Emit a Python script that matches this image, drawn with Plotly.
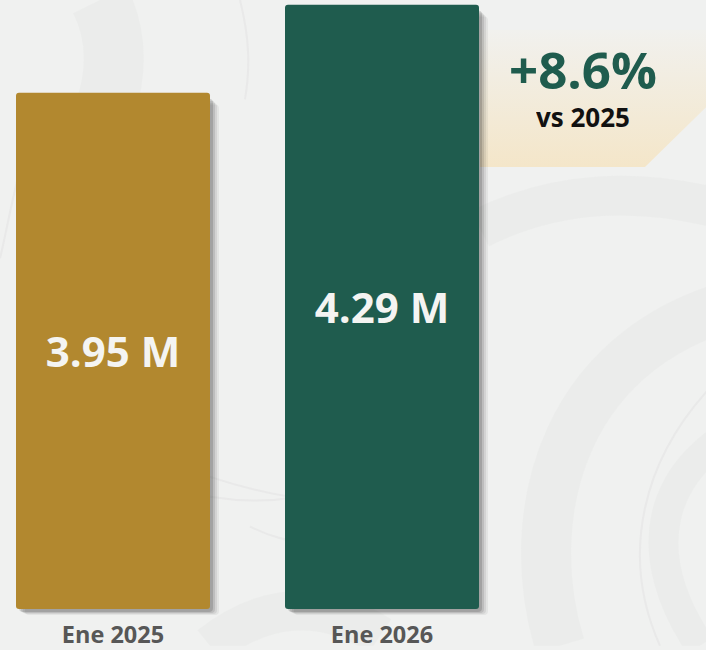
import base64
import plotly.graph_objects as go

# ---- data ----
categories = ["Ene 2025", "Ene 2026"]
values = [3.95, 4.29]
value_labels = ["3.95 M", "4.29 M"]
bar_colors = ["#B2882F", "#1F5C4E"]
change_text = "+8.6%"
change_sub = "vs 2025"

# ---- style ----
W, H = 706, 650
PLOT_H = 620
Y_MIN, Y_MAX = 1.929, 4.308
BASE = 1.956
px_per_unit = PLOT_H / (Y_MAX - Y_MIN)
px_per_cat = 269.0
X_MIN = -113 / px_per_cat
X_MAX = X_MIN + W / px_per_cat
BAR_W = 194 / px_per_cat
FONT = "Open Sans"

svg = f'''<svg xmlns="http://www.w3.org/2000/svg" width="{W}" height="{H}" viewBox="0 0 {W} {H}">
<defs>
<linearGradient id="g" x1="0" y1="0" x2="0" y2="1">
<stop offset="0" stop-color="#F1F1EE"/>
<stop offset="1" stop-color="#F4E6C9"/>
</linearGradient>
</defs>
<rect width="{W}" height="{H}" fill="#F0F1F0"/>
<g fill="none" stroke="#EAEBEA" stroke-opacity="0.8">
<path d="M560,650 C520,520 560,340 760,300" stroke-width="50"/>
<path d="M700,650 C640,560 650,470 760,420" stroke-width="30"/>
<path d="M100,0 C120,40 115,80 105,110" stroke-width="60"/>
<path d="M210,650 C260,610 320,600 380,640" stroke-width="40"/>
<path d="M480,230 C560,190 640,190 720,210" stroke-width="40"/>
</g>
<g fill="none" stroke="#E5E6E6" stroke-opacity="0.7">
<path d="M660,650 C620,560 640,460 720,380" stroke-width="2"/>
<path d="M210,480 C240,490 260,495 290,500" stroke-width="2"/>
<path d="M210,500 C240,505 270,505 300,500" stroke-width="2"/>
<path d="M250,530 C270,540 290,545 300,545" stroke-width="2"/>
<path d="M240,0 C250,40 250,70 245,100" stroke-width="2"/>
<path d="M20,170 C10,210 5,240 0,260" stroke-width="2"/>
</g>
<path d="M480,30 L{W},30 L{W},108 L645,168 L480,168 Z" fill="url(#g)"/>
</svg>'''
src = "data:image/svg+xml;base64," + base64.b64encode(svg.encode()).decode()

xs = list(range(len(categories)))
fig = go.Figure()

# soft drop shadows (layered)
for dx, dy, op in [(9, 6, 0.05), (7, 5, 0.07), (5, 4, 0.10), (3, 3, 0.14)]:
    fig.add_trace(go.Bar(
        x=xs, y=[v - BASE - dy / px_per_unit for v in values],
        base=BASE - dy / px_per_unit,
        width=BAR_W, offset=-BAR_W / 2 + dx / px_per_cat,
        marker=dict(color=f"rgba(0,0,0,{op})", cornerradius=4, line=dict(width=0)),
        hoverinfo="skip", showlegend=False,
    ))

fig.add_trace(go.Bar(
    x=xs, y=[v - BASE for v in values], base=BASE,
    width=BAR_W, offset=-BAR_W / 2,
    marker=dict(color=bar_colors, cornerradius=3, line=dict(width=0)),
    text=value_labels, textposition="inside", insidetextanchor="middle",
    textangle=0,
    textfont=dict(family=FONT, size=42, color="#F4F4F2", weight="bold"),
    showlegend=False,
))

fig.add_annotation(x=583 / W, y=1 - 69 / PLOT_H, xref="paper", yref="paper",
                   text=f"<b>{change_text}</b>", showarrow=False,
                   font=dict(family=FONT, size=51, color="#1F5C4E"),
                   height=54, borderpad=0,
                   xanchor="center", yanchor="middle")
fig.add_annotation(x=583 / W, y=1 - 118 / PLOT_H, xref="paper", yref="paper",
                   text=f"<b>{change_sub}</b>", showarrow=False,
                   font=dict(family=FONT, size=26, color="#111111"),
                   height=32, borderpad=0,
                   xanchor="center", yanchor="middle")

fig.update_layout(
    width=W, height=H,
    margin=dict(l=0, r=0, t=0, b=H - PLOT_H, pad=0),
    barmode="overlay",
    paper_bgcolor="#F0F1F0",
    plot_bgcolor="rgba(0,0,0,0)",
    images=[dict(source=src, xref="paper", yref="paper", x=0, y=1,
                 sizex=1, sizey=H / PLOT_H, xanchor="left", yanchor="top",
                 sizing="stretch", layer="below")],
    xaxis=dict(range=[X_MIN, X_MAX], tickmode="array", tickvals=xs,
               ticktext=[f"<b>{c}</b>" for c in categories],
               tickfont=dict(family=FONT, size=23.5, color="#575757"),
               ticklabelstandoff=2,
               showgrid=False, zeroline=False, showline=False, ticks="",
               fixedrange=True),
    yaxis=dict(range=[Y_MIN, Y_MAX], visible=False, showgrid=False,
               zeroline=False, fixedrange=True),
)

fig.write_html(
    "out.html",
    config={"displayModeBar": False},
    post_script="document.body.style.margin='0';document.body.style.overflow='hidden';document.body.style.background='#F0F1F0';",
)
